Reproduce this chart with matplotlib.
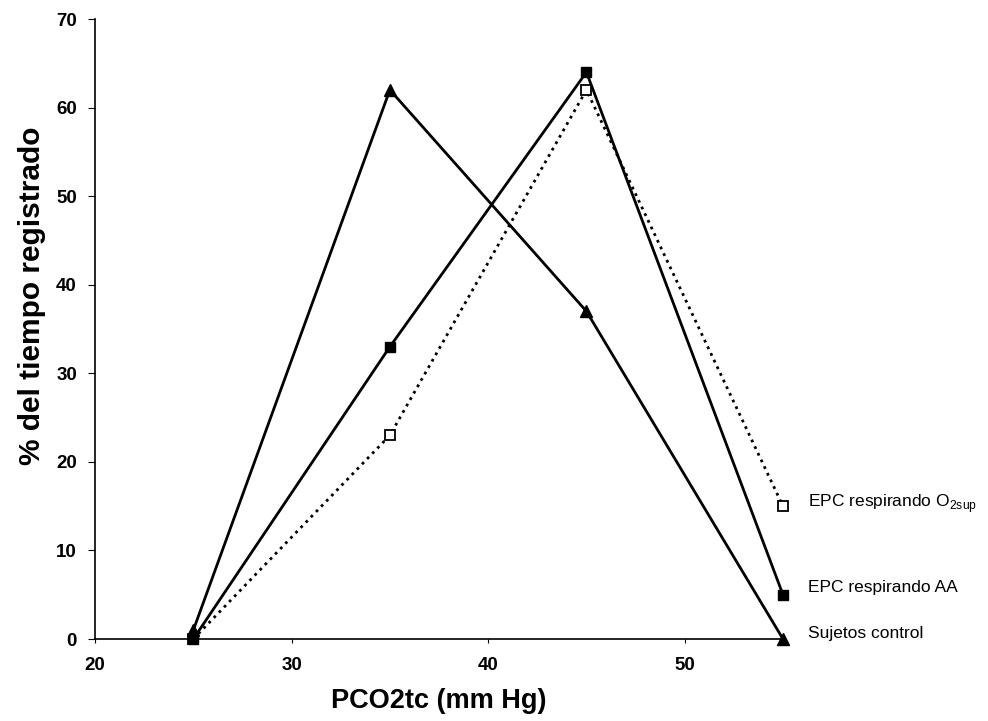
import matplotlib.pyplot as plt

plt.rcParams['font.family'] = ['Liberation Sans', 'DejaVu Sans']
plt.rcParams['mathtext.fontset'] = 'custom'
plt.rcParams['mathtext.rm'] = 'Liberation Sans'

pco2 = [25, 35, 45, 55]
control = [1, 62, 37, 0]
epc_aa = [0, 33, 64, 5]
epc_o2 = [0, 23, 62, 15]

labels = ["Sujetos control", "EPC respirando AA", r"EPC respirando O$_{\mathrm{2sup}}$"]
x_ticks = [20, 30, 40, 50]
y_ticks = [0, 10, 20, 30, 40, 50, 60, 70]

fig = plt.figure(figsize=(9.88, 7.21), dpi=100)
ax = fig.add_axes([0.0962, 0.1137, 0.6963, 0.8599])

ax.plot(pco2, epc_o2, color='black', linestyle=':', linewidth=2,
        marker='s', markersize=7, markerfacecolor='white', markeredgecolor='black',
        markeredgewidth=1.3, zorder=2, clip_on=False)
ax.plot(pco2, epc_aa, color='black', linewidth=2,
        marker='s', markersize=7, markerfacecolor='black', zorder=3, clip_on=False)
ax.plot(pco2, control, color='black', linewidth=2,
        marker='^', markersize=8, markerfacecolor='black', zorder=4, clip_on=False)

# series names at the end of each line
for vals, lab, dy in zip([control, epc_aa, epc_o2], labels, [4, 5, 2]):
    ax.annotate(lab, xy=(pco2[-1], vals[-1]), xytext=(18, dy), textcoords='offset points',
                va='center', ha='left', fontsize=12.5, annotation_clip=False)

ax.set_xlim(20, 55)
ax.set_ylim(0, 70)
ax.set_xticks(x_ticks)
ax.set_yticks(y_ticks)
for lbl in ax.get_xticklabels() + ax.get_yticklabels():
    lbl.set_fontweight('bold')
    lbl.set_fontsize(13.5)
ax.tick_params(axis='x', length=3, pad=10)
ax.tick_params(axis='y', length=5, pad=8)

ax.spines['top'].set_visible(False)
ax.spines['right'].set_visible(False)
ax.spines['left'].set_linewidth(1.2)
ax.spines['bottom'].set_linewidth(1.2)

ax.set_xlabel("PCO2tc (mm Hg)", fontsize=19.5, fontweight='bold', labelpad=10)
ax.set_ylabel("% del tiempo registrado", fontsize=21.5, fontweight='bold')
ax.yaxis.set_label_coords(-0.072, 0.553)

fig.savefig("out.png", dpi=100)
